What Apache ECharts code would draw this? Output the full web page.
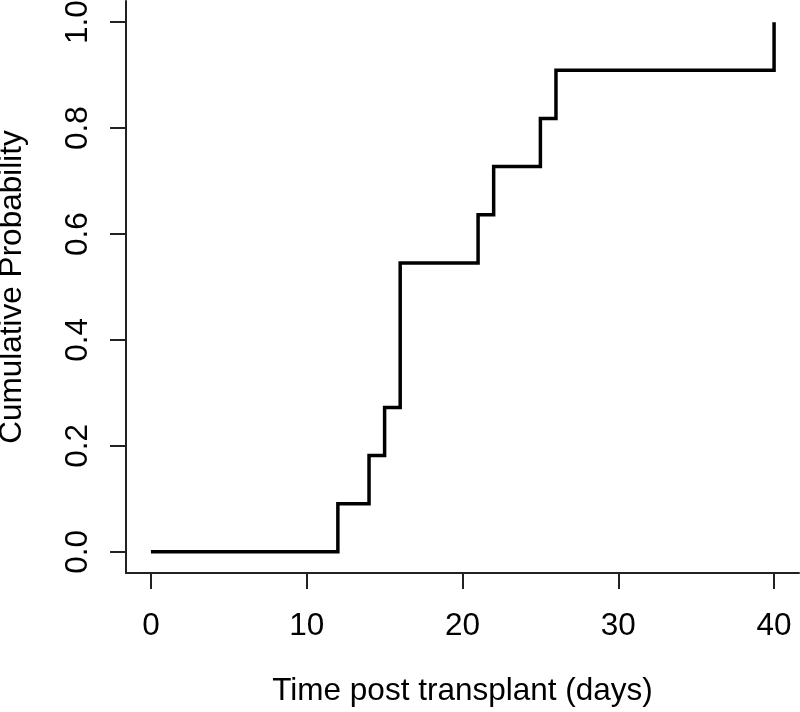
<!DOCTYPE html>
<html>
<head>
<meta charset="utf-8">
<script src="https://cdn.jsdelivr.net/npm/echarts@6/dist/echarts.min.js"></script>
<style>
html,body{margin:0;padding:0;background:#fff;}
#chart{width:800px;height:712px;}
</style>
</head>
<body>
<div id="chart"></div>
<script>
// Data (Kaplan-Meier style cumulative incidence)
const times = [0, 12, 14, 15, 16, 21, 22, 25, 26, 40];
const cumProb = [0, 0.0909, 0.1818, 0.2727, 0.5455, 0.6364, 0.7273, 0.8182, 0.9091, 1.0];
const xTicks = [0, 10, 20, 30, 40];
const yTicks = [0, 0.2, 0.4, 0.6, 0.8, 1.0];

const FONT = '"Liberation Sans", Arial, sans-serif';
const chart = echarts.init(document.getElementById('chart'), null, {renderer: 'canvas'});
chart.setOption({
  backgroundColor: '#ffffff',
  animation: false,
  grid: {left: 126, right: 1, top: 1, bottom: 139, containLabel: false, outerBoundsMode: 'none'},
  xAxis: {
    type: 'value',
    min: -1.6,
    max: 41.6,
    name: 'Time post transplant (days)',
    nameLocation: 'middle',
    nameGap: 102,
    nameTextStyle: {color: '#000', fontSize: 31.5, fontFamily: FONT},
    axisLine: {show: true, onZero: false, lineStyle: {color: '#222', width: 2}},
    axisTick: {show: true, inside: false, length: 16, customValues: xTicks, lineStyle: {color: '#222', width: 2}},
    axisLabel: {show: true, customValues: xTicks, margin: 37, color: '#000', fontSize: 31.5, fontFamily: FONT,
      formatter: v => String(Math.round(v))},
    splitLine: {show: false}
  },
  yAxis: {
    type: 'value',
    min: -0.04,
    max: 1.04,
    name: 'Cumulative Probability',
    nameLocation: 'middle',
    nameGap: 98,
    nameRotate: 90,
    nameTextStyle: {color: '#000', fontSize: 31.5, fontFamily: FONT},
    axisLine: {show: true, onZero: false, lineStyle: {color: '#222', width: 2}},
    axisTick: {show: true, inside: false, length: 16, customValues: yTicks, lineStyle: {color: '#222', width: 2}},
    axisLabel: {show: true, customValues: yTicks, rotate: 90, margin: 32, color: '#000', fontSize: 31.5, fontFamily: FONT,
      formatter: v => v.toFixed(1)},
    splitLine: {show: false}
  },
  series: [{
    type: 'line',
    step: 'end',
    data: times.map((t, i) => [t, cumProb[i]]),
    showSymbol: false,
    symbol: 'none',
    lineStyle: {color: '#000', width: 3.5, join: 'miter', cap: 'butt'}
  }]
});
</script>
</body>
</html>
